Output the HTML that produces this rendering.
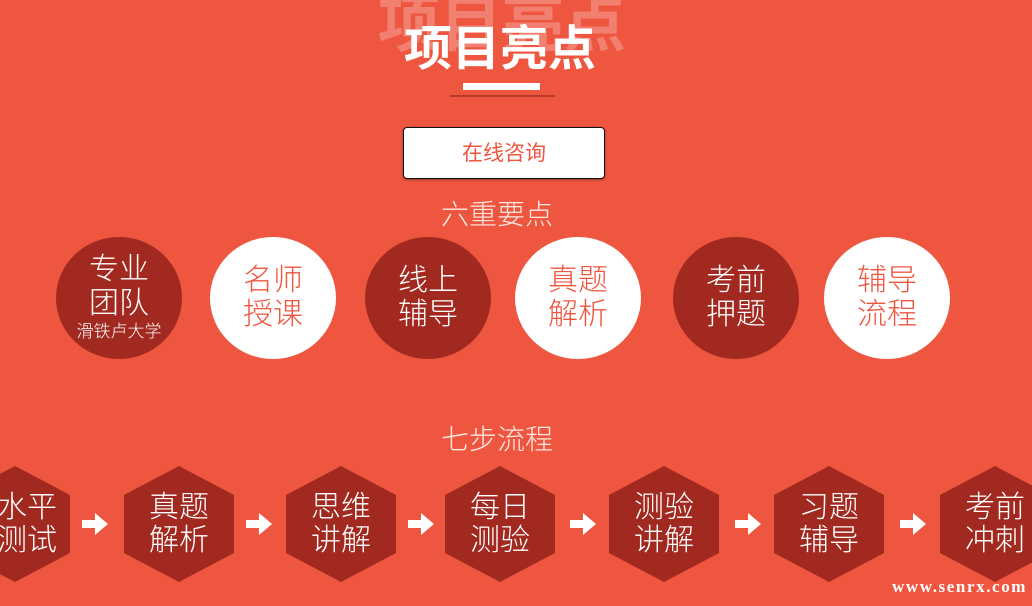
<!DOCTYPE html>
<html><head><meta charset="utf-8"><style>
*{margin:0;padding:0;box-sizing:border-box}
body{width:1032px;height:606px;overflow:hidden;background:#ee5640;font-family:"Liberation Sans","Noto Sans CJK SC",sans-serif;position:relative}
.a{position:absolute}
.c{position:absolute;width:126px;height:122px;border-radius:50%;display:flex;flex-direction:column;align-items:center;justify-content:center;font-size:30px;line-height:34px;font-weight:300;text-align:center}
.d{background:#a1291f;color:#fff}
.w{background:#fff;color:#ee5640}
.h{position:absolute;width:110px;height:116px;top:466px;background:#a1291f;clip-path:polygon(50% 0,100% 25%,100% 75%,50% 100%,0 75%,0 25%);border-radius:6px;color:#fff;font-size:30px;line-height:33px;font-weight:300;display:flex;align-items:center;justify-content:center;text-align:center}
.ar{position:absolute;top:513px;width:26px;height:22px}
</style></head><body>
<div class="a" style="left:372px;top:-26px;width:260px;text-align:center;font-size:62px;font-weight:bold;color:rgba(255,255,255,0.25)">项目亮点</div>
<div class="a" style="left:400px;top:20px;width:200px;text-align:center;font-size:48px;font-weight:bold;color:#fff;line-height:60px">项目亮点</div>
<div class="a" style="left:463px;top:83px;width:77px;height:7px;background:#fff"></div>
<div class="a" style="left:450px;top:95px;width:105px;height:2px;background:#b8392a"></div>
<div class="a" style="left:403px;top:127px;width:202px;height:52px;background:#fff;border:1.5px solid #111;border-radius:4px;color:#ee5640;font-size:21px;line-height:52px;text-align:center;box-shadow:0 1px 2px rgba(0,0,0,.4)">在线咨询</div>
<div class="a" style="left:397px;top:193px;width:200px;text-align:center;color:#fde9e4;font-size:28px;font-weight:300">六重要点</div>
<div class="c d" style="left:56px;top:237px"><div>专业<br>团队</div><div style="font-size:17px;line-height:22px">滑铁卢大学</div></div>
<div class="c w" style="left:210px;top:237px">名师<br>授课</div>
<div class="c d" style="left:365px;top:237px">线上<br>辅导</div>
<div class="c w" style="left:515px;top:237px">真题<br>解析</div>
<div class="c d" style="left:673px;top:237px">考前<br>押题</div>
<div class="c w" style="left:824px;top:237px">辅导<br>流程</div>
<div class="a" style="left:397px;top:418px;width:200px;text-align:center;color:#fde9e4;font-size:28px;font-weight:300">七步流程</div>
<div class="h" style="left:-40px"><span style="margin-left:24px">水平<br>测试</span></div>
<div class="h" style="left:124px">真题<br>解析</div>
<div class="h" style="left:286px">思维<br>讲解</div>
<div class="h" style="left:445px">每日<br>测验</div>
<div class="h" style="left:609px">测验<br>讲解</div>
<div class="h" style="left:774px">习题<br>辅导</div>
<div class="h" style="left:940px">考前<br>冲刺</div>
<svg class="ar" style="left:82px" viewBox="0 0 26 22"><polygon points="0,7 13,7 13,0 26,11 13,22 13,15 0,15" fill="#fff"/></svg>
<svg class="ar" style="left:246px" viewBox="0 0 26 22"><polygon points="0,7 13,7 13,0 26,11 13,22 13,15 0,15" fill="#fff"/></svg>
<svg class="ar" style="left:408px" viewBox="0 0 26 22"><polygon points="0,7 13,7 13,0 26,11 13,22 13,15 0,15" fill="#fff"/></svg>
<svg class="ar" style="left:570px" viewBox="0 0 26 22"><polygon points="0,7 13,7 13,0 26,11 13,22 13,15 0,15" fill="#fff"/></svg>
<svg class="ar" style="left:735px" viewBox="0 0 26 22"><polygon points="0,7 13,7 13,0 26,11 13,22 13,15 0,15" fill="#fff"/></svg>
<svg class="ar" style="left:900px" viewBox="0 0 26 22"><polygon points="0,7 13,7 13,0 26,11 13,22 13,15 0,15" fill="#fff"/></svg>
<div class="a" style="left:892px;top:577px;font-family:'Liberation Serif',serif;font-weight:bold;font-size:17px;letter-spacing:1.6px;color:#fff">www.senrx.com</div>
</body></html>
